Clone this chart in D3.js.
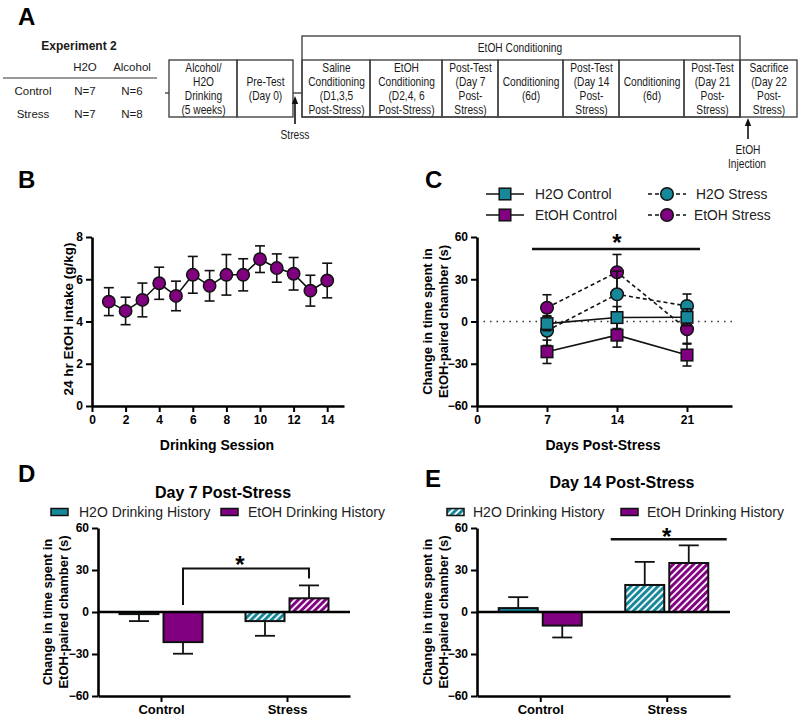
<!DOCTYPE html>
<html><head><meta charset="utf-8">
<script src="https://cdn.jsdelivr.net/npm/d3@7"></script>
<style>
body{margin:0;background:#fff;}
svg{display:block;font-family:"Liberation Sans",Arial,Helvetica,sans-serif;}
</style></head><body>
<svg id="chart" width="800" height="718"></svg>
<script>
// ================= DATA =================
// Panel A: design table and timeline text
const tableGroups = ["Control", "Stress"];
const tableCols = ["H2O", "Alcohol"];
const tableH2O = ["N=7", "N=7"];
const tableAlcohol = ["N=6", "N=8"];
const timelineText = [
  ["Alcohol/", "H2O", "Drinking", "(5 weeks)"],
  ["Pre-Test", "(Day 0)"],
  ["Saline", "Conditioning", "(D1,3,5", "Post-Stress)"],
  ["EtOH", "Conditioning", "(D2,4, 6", "Post-Stress)"],
  ["Post-Test", "(Day 7", "Post-", "Stress)"],
  ["Conditioning", "(6d)"],
  ["Post-Test", "(Day 14", "Post-", "Stress)"],
  ["Conditioning", "(6d)"],
  ["Post-Test", "(Day 21", "Post-", "Stress)"],
  ["Sacrifice", "(Day 22", "Post-", "Stress)"]
];

// Panel B: 24 hr EtOH intake
const sessions = [1, 2, 3, 4, 5, 6, 7, 8, 9, 10, 11, 12, 13, 14];
const intake = [4.94, 4.5, 5.02, 5.81, 5.21, 6.21, 5.69, 6.21, 6.21, 6.95, 6.53, 6.26, 5.46, 5.94];
const intakeSem = [0.66, 0.65, 0.8, 0.76, 0.7, 0.87, 0.72, 0.96, 0.76, 0.63, 0.67, 0.77, 0.73, 0.82];
const sessionTicks = [0, 2, 4, 6, 8, 10, 12, 14];
const intakeTicks = [0, 2, 4, 6, 8];

// Panel C: change in time spent (s), days 7, 14, 21 post-stress
const days = [7, 14, 21];
const h2oControl = [-1.5, 2.8, 3.0];
const h2oControlSem = [5.0, 7.8, 6.0];
const etohControl = [-21.5, -9.7, -23.8];
const etohControlSem = [8.3, 8.5, 7.8];
const h2oStress = [-6.5, 19.3, 11.0];
const h2oStressSem = [10.5, 16.5, 8.5];
const etohStress = [9.8, 35.0, -5.5];
const etohStressSem = [9.2, 12.6, 10.0];
const dayTicks = [0, 7, 14, 21];
const changeTicks = [-60, -30, 0, 30, 60];

// Panels D/E
const barGroups = ["Control", "Stress"];
const barSubs = ["H2O", "EtOH"];
const legendLabels = ["H2O Drinking History", "EtOH Drinking History"];

// ================= DRAWING =================
const svg = d3.select("#chart");
const TEAL = "#17879a", PURPLE = "#800080", INK = "#111";
const defs = svg.append("defs");
function hatch(id, color) {
  const p = defs.append("pattern").attr("id", id).attr("patternUnits", "userSpaceOnUse")
    .attr("width", 4.8).attr("height", 4.8).attr("patternTransform", "rotate(45)");
  p.append("rect").attr("width", 4.8).attr("height", 4.8).attr("fill", "#fff");
  p.append("rect").attr("width", 3).attr("height", 4.8).attr("fill", color);
}
hatch("hTeal", TEAL); hatch("hPurple", PURPLE);

function letter(x, y, t) {
  svg.append("text").attr("x", x).attr("y", y).attr("font-size", 24).attr("font-weight", "bold").text(t);
}
function styleAxis(g) {
  g.select(".domain").attr("stroke", "#000").attr("stroke-width", 2.6);
  g.selectAll(".tick line").attr("stroke", "#000").attr("stroke-width", 2);
  g.selectAll(".tick text").attr("font-size", 12).attr("font-weight", "bold").attr("fill", "#000")
    .attr("font-family", '"Liberation Sans",Arial,sans-serif');
}
function rotLabel(cx, cy, lines, fs) {
  const n = lines.length;
  lines.forEach((l, i) => {
    const x = cx + (i - (n - 1) / 2) * 15.5;
    svg.append("text").attr("transform", `translate(${x},${cy}) rotate(-90)`)
      .attr("text-anchor", "middle").attr("dy", "0.35em")
      .attr("font-size", fs).attr("font-weight", "bold").text(l);
  });
}
function star(x, cy, fs) {
  svg.append("text").attr("x", x).attr("y", cy + fs * 0.55).attr("text-anchor", "middle")
    .attr("font-size", fs).attr("font-weight", "bold").text("*");
}
function upArrow(x, yTop, yBot) {
  svg.append("line").attr("x1", x).attr("x2", x).attr("y1", yBot).attr("y2", yTop + 4)
    .attr("stroke", INK).attr("stroke-width", 1.6);
  svg.append("path").attr("d", `M${x - 3.2},${yTop + 8} L${x},${yTop} L${x + 3.2},${yTop + 8} Z`).attr("fill", INK);
}

// ---------- Panel A ----------
letter(18, 25, "A");
function sText(x, y, s, fs, weight) {
  svg.append("text").attr("transform", `translate(${x},${y}) scale(0.85,1)`)
    .attr("text-anchor", "middle").attr("font-size", fs || 12).attr("font-weight", weight || "normal")
    .attr("fill", "#1a1a1a").text(s);
}
svg.append("text").attr("x", 79).attr("y", 50).attr("text-anchor", "middle").attr("font-size", 12)
  .attr("font-weight", "bold").attr("fill", "#1a1a1a").text("Experiment 2");
const colX = [85, 132];
tableCols.forEach((c, i) => svg.append("text").attr("x", colX[i]).attr("y", 71).attr("text-anchor", "middle")
  .attr("font-size", 11.5).attr("fill", "#1a1a1a").text(c));
svg.append("line").attr("x1", 3).attr("x2", 157).attr("y1", 78).attr("y2", 78).attr("stroke", "#333").attr("stroke-width", 1);
tableGroups.forEach((g, i) => {
  const y = 95 + i * 23;
  svg.append("text").attr("x", 33).attr("y", y).attr("text-anchor", "middle").attr("font-size", 11.5).attr("fill", "#1a1a1a").text(g);
  svg.append("text").attr("x", colX[0]).attr("y", y).attr("text-anchor", "middle").attr("font-size", 11.5).attr("fill", "#1a1a1a").text(tableH2O[i]);
  svg.append("text").attr("x", colX[1]).attr("y", y).attr("text-anchor", "middle").attr("font-size", 11.5).attr("fill", "#1a1a1a").text(tableAlcohol[i]);
});
const boxX = [[169, 237], [237, 293], [302, 370], [370, 442], [442, 498], [498, 563], [563, 619], [619, 684], [684, 740], [740, 797]];
const rowTop = 60, rowBot = 117;
const boxStroke = "#444";
svg.append("rect").attr("x", 302).attr("y", 36).attr("width", 438).attr("height", rowBot - 36)
  .attr("fill", "none").attr("stroke", boxStroke).attr("stroke-width", 1.4);
sText(520, 52, "EtOH Conditioning");
boxX.forEach((b, i) => {
  svg.append("rect").attr("x", b[0]).attr("y", rowTop).attr("width", b[1] - b[0]).attr("height", rowBot - rowTop)
    .attr("fill", "none").attr("stroke", boxStroke).attr("stroke-width", 1.4);
  const lines = timelineText[i];
  const n = lines.length;
  lines.forEach((l, j) => sText((b[0] + b[1]) / 2 + 0.5, 88 + (j - (n - 1) / 2) * 14 + 4.5, l));
});
svg.append("line").attr("x1", 165).attr("x2", 169).attr("y1", 93).attr("y2", 93).attr("stroke", boxStroke).attr("stroke-width", 1.4);
svg.append("line").attr("x1", 293).attr("x2", 302).attr("y1", 93).attr("y2", 93).attr("stroke", boxStroke).attr("stroke-width", 1.4);
upArrow(295, 96, 124);
sText(295, 139, "Stress");
upArrow(748, 118, 139);
sText(748, 154, "EtOH");
sText(747, 168, "Injection");

// ---------- Panel B ----------
letter(18, 188, "B");
const xB = d3.scaleLinear().domain([0, 15]).range([92, 344]);
const yB = d3.scaleLinear().domain([0, 8]).range([406, 237]);
svg.append("g").attr("transform", "translate(0,406)")
  .call(d3.axisBottom(xB).tickValues(sessionTicks).tickSize(6).tickPadding(3).tickSizeOuter(0)).call(styleAxis);
svg.append("g").attr("transform", "translate(92,0)")
  .call(d3.axisLeft(yB).tickValues(intakeTicks).tickSize(6).tickPadding(3).tickSizeOuter(0)).call(styleAxis);
svg.append("text").attr("x", 217).attr("y", 450).attr("text-anchor", "middle").attr("font-size", 14).attr("font-weight", "bold").text("Drinking Session");
rotLabel(68, 319, ["24 hr  EtOH intake (g/kg)"], 13.5);
const bData = sessions.map((s, i) => ({x: s, y: intake[i], e: intakeSem[i]}));
svg.append("path").datum(bData).attr("fill", "none").attr("stroke", INK).attr("stroke-width", 1.6)
  .attr("d", d3.line().x(d => xB(d.x)).y(d => yB(d.y)));
const gbE = svg.append("g").attr("stroke", INK).attr("stroke-width", 1.6);
bData.forEach(d => {
  gbE.append("line").attr("x1", xB(d.x)).attr("x2", xB(d.x)).attr("y1", yB(d.y - d.e)).attr("y2", yB(d.y + d.e));
  [d.y - d.e, d.y + d.e].forEach(v => gbE.append("line").attr("x1", xB(d.x) - 5).attr("x2", xB(d.x) + 5).attr("y1", yB(v)).attr("y2", yB(v)));
});
svg.append("g").selectAll("circle").data(bData).join("circle")
  .attr("cx", d => xB(d.x)).attr("cy", d => yB(d.y)).attr("r", 6.2)
  .attr("fill", PURPLE).attr("stroke", INK).attr("stroke-width", 1.5);

// ---------- Panel C ----------
letter(425, 188, "C");
const xC = d3.scaleLinear().domain([0, 25.5]).range([477, 732]);
const yC = d3.scaleLinear().domain([-60, 60]).range([406, 237]);
svg.append("line").attr("x1", 477).attr("x2", 732).attr("y1", yC(0)).attr("y2", yC(0))
  .attr("stroke", "#333").attr("stroke-width", 1.5).attr("stroke-dasharray", "1.5,5");
svg.append("g").attr("transform", "translate(0,406)")
  .call(d3.axisBottom(xC).tickValues(dayTicks).tickSize(6).tickPadding(3).tickSizeOuter(0)).call(styleAxis);
svg.append("g").attr("transform", "translate(477,0)")
  .call(d3.axisLeft(yC).tickValues(changeTicks).tickSize(6).tickPadding(3).tickSizeOuter(0)).call(styleAxis);
svg.append("text").attr("x", 603).attr("y", 450).attr("text-anchor", "middle").attr("font-size", 14).attr("font-weight", "bold").text("Days Post-Stress");
rotLabel(435.5, 321.5, ["Change in time spent in", "EtOH-paired chamber (s)"], 13);
const seriesC = [
  {name: "H2O Control", v: h2oControl, e: h2oControlSem, color: TEAL, shape: "square", dash: null},
  {name: "EtOH Control", v: etohControl, e: etohControlSem, color: PURPLE, shape: "square", dash: null},
  {name: "H2O Stress", v: h2oStress, e: h2oStressSem, color: TEAL, shape: "circle", dash: "4,3"},
  {name: "EtOH Stress", v: etohStress, e: etohStressSem, color: PURPLE, shape: "circle", dash: "4,3"}
];
function marker(g, shape, x, y, color, size) {
  if (shape === "square") {
    g.append("rect").attr("x", x - size).attr("y", y - size).attr("width", 2 * size).attr("height", 2 * size)
      .attr("fill", color).attr("stroke", INK).attr("stroke-width", 1.5);
  } else {
    g.append("circle").attr("cx", x).attr("cy", y).attr("r", size + 0.5)
      .attr("fill", color).attr("stroke", INK).attr("stroke-width", 1.5);
  }
}
seriesC.forEach(s => {
  svg.append("path").datum(days.map((d, i) => [d, s.v[i]])).attr("fill", "none").attr("stroke", INK)
    .attr("stroke-width", 1.6).attr("stroke-dasharray", s.dash)
    .attr("d", d3.line().x(d => xC(d[0])).y(d => yC(d[1])));
});
[3, 2, 1, 0].forEach(k => {
  const s = seriesC[k];
  const g = svg.append("g");
  days.forEach((d, i) => {
    const x = xC(d);
    g.append("line").attr("x1", x).attr("x2", x).attr("y1", yC(s.v[i] - s.e[i])).attr("y2", yC(s.v[i] + s.e[i]))
      .attr("stroke", INK).attr("stroke-width", 1.6);
    [s.v[i] - s.e[i], s.v[i] + s.e[i]].forEach(v => g.append("line").attr("x1", x - 4.5).attr("x2", x + 4.5)
      .attr("y1", yC(v)).attr("y2", yC(v)).attr("stroke", INK).attr("stroke-width", 1.6));
  });
  days.forEach((d, i) => marker(g, s.shape, xC(d), yC(s.v[i]), s.color, 5.8));
});
svg.append("line").attr("x1", xC(5.5)).attr("x2", xC(22.3)).attr("y1", yC(51.5)).attr("y2", yC(51.5)).attr("stroke", INK).attr("stroke-width", 2.4);
star(xC(14), 238, 24);
const legC = [
  {s: seriesC[0], lx: 486, tx: 535, y: 194},
  {s: seriesC[1], lx: 486, tx: 535, y: 215},
  {s: seriesC[2], lx: 648, tx: 696, y: 194},
  {s: seriesC[3], lx: 648, tx: 694, y: 215}
];
legC.forEach(l => {
  const g = svg.append("g");
  g.append("line").attr("x1", l.lx).attr("x2", l.lx + 38).attr("y1", l.y).attr("y2", l.y)
    .attr("stroke", INK).attr("stroke-width", 1.6).attr("stroke-dasharray", l.s.dash);
  marker(g, l.s.shape, l.lx + 19, l.y, l.s.color, 5.8);
  g.append("text").attr("x", l.tx).attr("y", l.y + 5).attr("font-size", 13.8).attr("fill", "#222").text(l.s.name);
});

// ---------- Panels D & E ----------
function barPanel(opts) {
  const {x0, x1, dayIdx, letterPos, title, titlePos, legendPos, legendH2OHatched, sig} = opts;
  letter(letterPos[0], letterPos[1], opts.letter);
  const y = d3.scaleLinear().domain([-60, 60]).range([696, 528]);
  const x = d3.scalePoint().domain(barGroups).range([x0, x1]).padding(0.5);
  const xs = d3.scaleBand().domain(barSubs).range([-41.5, 41.5]).paddingInner(0.114);
  const bars = [
    {g: "Control", s: "H2O", v: h2oControl[dayIdx], e: h2oControlSem[dayIdx], fill: TEAL},
    {g: "Control", s: "EtOH", v: etohControl[dayIdx], e: etohControlSem[dayIdx], fill: PURPLE},
    {g: "Stress", s: "H2O", v: h2oStress[dayIdx], e: h2oStressSem[dayIdx], fill: "url(#hTeal)"},
    {g: "Stress", s: "EtOH", v: etohStress[dayIdx], e: etohStressSem[dayIdx], fill: "url(#hPurple)"}
  ];
  const g = svg.append("g");
  bars.forEach(b => {
    const bx = x(b.g) + xs(b.s), cx = bx + xs.bandwidth() / 2;
    const end = b.v + Math.sign(b.v) * b.e;
    g.append("line").attr("x1", cx).attr("x2", cx).attr("y1", y(b.v)).attr("y2", y(end)).attr("stroke", INK).attr("stroke-width", 1.8);
    g.append("line").attr("x1", cx - 10).attr("x2", cx + 10).attr("y1", y(end)).attr("y2", y(end)).attr("stroke", INK).attr("stroke-width", 1.8);
    g.append("rect").attr("x", bx).attr("width", xs.bandwidth())
      .attr("y", y(Math.max(0, b.v))).attr("height", Math.abs(y(b.v) - y(0)))
      .attr("fill", b.fill).attr("stroke", INK).attr("stroke-width", 2);
  });
  g.append("line").attr("x1", x0).attr("x2", x1).attr("y1", y(0)).attr("y2", y(0)).attr("stroke", "#000").attr("stroke-width", 2.4);
  svg.append("g").attr("transform", "translate(0,696)")
    .call(d3.axisBottom(x).tickSize(6).tickPadding(3).tickSizeOuter(0)).call(styleAxis)
    .selectAll(".tick text").attr("font-size", 13);
  svg.append("g").attr("transform", `translate(${x0},0)`)
    .call(d3.axisLeft(y).tickValues(changeTicks).tickSize(6).tickPadding(3).tickSizeOuter(0)).call(styleAxis);
  svg.append("text").attr("x", titlePos[0]).attr("y", titlePos[1]).attr("text-anchor", "middle")
    .attr("font-size", 16).attr("font-weight", "bold").text(title);
  rotLabel(opts.ylabX, 612, ["Change in time spent in", "EtOH-paired chamber (s)"], 13);
  const lfill = [legendH2OHatched ? "url(#hTeal)" : TEAL, PURPLE];
  legendPos.forEach((p, i) => {
    svg.append("rect").attr("x", p[0]).attr("y", 508.5).attr("width", 17).attr("height", 7)
      .attr("fill", lfill[i]).attr("stroke", INK).attr("stroke-width", 1.5);
    svg.append("text").attr("x", p[1]).attr("y", 517).attr("font-size", 14).attr("fill", "#222").text(legendLabels[i]);
  });
  sig(x, xs, y);
}
barPanel({
  letter: "D", letterPos: [18, 482], x0: 98, x1: 350, dayIdx: 0,
  title: "Day 7 Post-Stress", titlePos: [223, 498], ylabX: 55.5,
  legendPos: [[51, 79], [221, 248]], legendH2OHatched: false,
  sig: (x, xs, y) => {
    const xl = x("Control") + xs("EtOH") + xs.bandwidth() / 2;
    const xr = x("Stress") + xs("EtOH") + xs.bandwidth() / 2;
    svg.append("path").attr("d", `M${xl},${y(5)} V${y(31)} H${xr} V${y(24)}`)
      .attr("fill", "none").attr("stroke", INK).attr("stroke-width", 2);
    star((xl + xr) / 2 - 6, 560, 24);
  }
});
barPanel({
  letter: "E", letterPos: [425, 487], x0: 477, x1: 730, dayIdx: 1,
  title: "Day 14 Post-Stress", titlePos: [622, 488], ylabX: 435.5,
  legendPos: [[447, 473], [621, 647]], legendH2OHatched: true,
  sig: (x, xs, y) => {
    const cx = x("Stress");
    svg.append("line").attr("x1", cx - 56).attr("x2", cx + 60).attr("y1", y(52)).attr("y2", y(52))
      .attr("stroke", INK).attr("stroke-width", 2.4);
    star(cx, 532, 24);
  }
});
</script>
</body></html>
